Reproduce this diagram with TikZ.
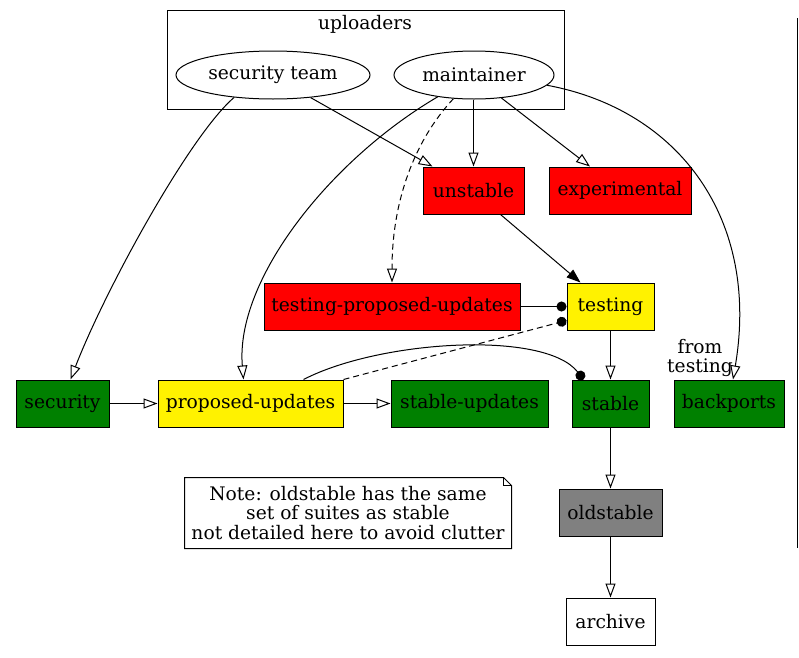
\documentclass[tikz,border=0pt]{standalone}
\usepackage{fontspec}
\setmainfont{DejaVu Serif}
\usetikzlibrary{arrows.meta,shapes.geometric}
\definecolor{gvgreen}{RGB}{0,128,0}
\definecolor{gvgray}{RGB}{128,128,128}
\begin{document}
\begin{tikzpicture}[x=0.75pt,y=-0.75pt, line width=0.75pt,
  every node/.style={font=\fontsize{14}{14.6}\selectfont},
  box/.style={draw, rectangle, minimum height=35.25pt, inner sep=0pt},
  oval/.style={draw, ellipse, minimum height=36pt, inner sep=0pt},
  oarr/.style={-{Triangle[open,length=10.5pt,width=7.5pt]}},
  farr/.style={-{Triangle[length=10.5pt,width=7.5pt]}},
  darr/.style={-{Circle[length=7.5pt]}},
  gvdash/.style={dash pattern=on 4.5pt off 3pt},
  cluster/.style={draw, rectangle, inner sep=0pt},
  plain/.style={inner sep=0pt}
]
\useasboundingbox (0,0) rectangle (799,657);

% cluster
\node[cluster, minimum width=297.75pt, minimum height=74.25pt] (uploaders) at (365.5,59.5) {};
\node[plain] (uplabel) at (365,24) {uploaders};
\node[oval, minimum width=145.5pt] (st) at (273,75) {security team};
\node[oval, minimum width=120pt] (maint) at (474,75) {maintainer};

% suites
\node[box, fill=red, minimum width=75.75pt] (unstable) at (473.5,190.5) {unstable};
\node[box, fill=red, minimum width=106.5pt] (exp) at (620,190.5) {experimental};
\node[box, fill=red, minimum width=192pt] (tpu) at (392,306.5) {testing-proposed-updates};
\node[box, fill=yellow, minimum width=65.25pt] (testing) at (610.5,306.5) {testing};
\node[box, fill=gvgreen, minimum width=69.75pt] (sec) at (62.5,403.5) {security};
\node[box, fill=yellow, minimum width=138.75pt] (pu) at (250.5,403.5) {proposed-updates};
\node[box, fill=gvgreen, minimum width=117.75pt] (su) at (469.5,403.5) {stable-updates};
\node[box, fill=gvgreen, minimum width=57.75pt] (stable) at (610.5,403.5) {stable};
\node[box, fill=gvgreen, minimum width=82.5pt] (bp) at (729,403.5) {backports};
\node[box, fill=gvgray, minimum width=77.25pt] (old) at (610.5,512.5) {oldstable};
\node[box, fill=white, minimum width=66.75pt] (archive) at (610.5,621.5) {archive};

% note
\node[plain, align=center, minimum width=244.5pt, minimum height=52.5pt] (note) at (348,513)
  {Note: oldstable has the same\\set of suites as stable\\not detailed here to avoid clutter};
\draw (note.south west) -- (note.north west) -- ([xshift=-6pt]note.north east)
  -- ([yshift=-6pt]note.north east) -- (note.south east) -- cycle;
\draw ([xshift=-6pt]note.north east) -- ([xshift=-6pt,yshift=-6pt]note.north east)
  -- ([yshift=-6pt]note.north east);

% label
\node[plain, align=center] (fromtesting) at (700,358) {from\\testing};

% right line
\coordinate (vtop) at (797.5,18);
\coordinate (vbot) at (797.5,548);
\draw (vtop) -- (vbot);

% edges
\draw[oarr] (st.-150) .. controls (190,135) and (105,290) .. ([xshift=6pt]sec.north);
\draw[oarr] (st.-31) -- ([xshift=-30.75pt]unstable.north);
\draw[oarr] (unstable.north |- maint.south) -- (unstable.north);
\draw[oarr] (maint.-40) -- ([xshift=-22.5pt]exp.north);
\draw[oarr] (maint.-149) .. controls (330,160) and (235,280) .. ([xshift=-5.25pt]pu.north);
\draw[oarr, gvdash] (maint.-131) .. controls (415,140) and (392,200) .. (tpu.north);
\draw[oarr] (maint.-8) .. controls (680,110) and (760,220) .. ([xshift=3pt]bp.north);
\draw[farr] ([xshift=20.25pt]unstable.south) -- ([xshift=-22.5pt]testing.north);
\draw[darr] (tpu.east) -- (testing.west);
\draw[darr, gvdash] (pu.north east) -- ([yshift=-10.5pt]testing.west);
\draw[darr] ([xshift=39.75pt]pu.north) .. controls (380,340) and (545,330) .. ([xshift=-20.25pt]stable.north);
\draw[oarr] (testing) -- (stable);
\draw[oarr] (sec) -- (pu);
\draw[oarr] (pu) -- (su);
\draw[oarr] (stable) -- (old);
\draw[oarr] (old) -- (archive);
\end{tikzpicture}
\end{document}
